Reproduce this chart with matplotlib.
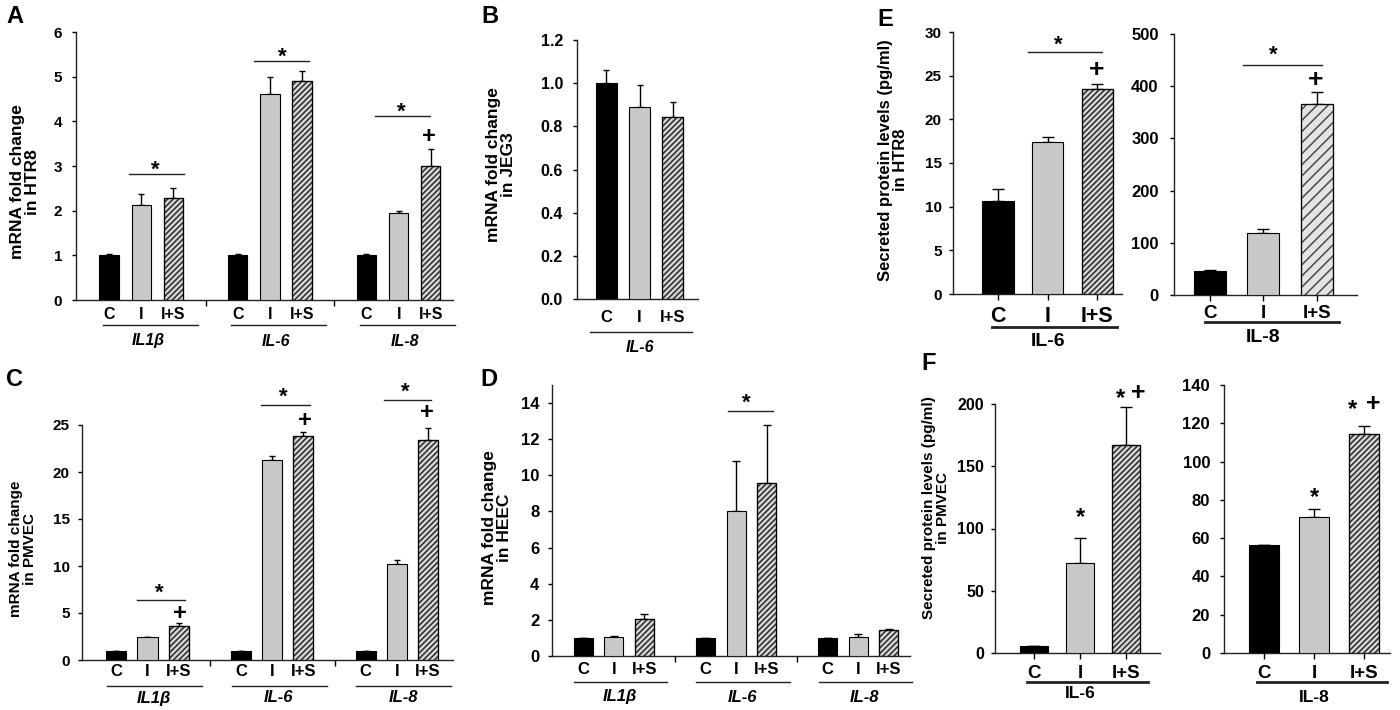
import matplotlib
matplotlib.use('Agg')
import matplotlib.pyplot as plt
import matplotlib.transforms as mtransforms
import numpy as np

plt.rcParams['font.family'] = ['Liberation Sans', 'DejaVu Sans']
plt.rcParams['font.weight'] = 'bold'
plt.rcParams['hatch.linewidth'] = 1.1

# ---------------- data ----------------
conditions = ['C', 'I', 'I+S']
genes = ['IL1β', 'IL-6', 'IL-8']

a_mean = [1.0, 2.12, 2.28, 1.0, 4.62, 4.91, 1.0, 1.95, 3.0]
a_err = [0.02, 0.25, 0.23, 0.02, 0.38, 0.22, 0.02, 0.05, 0.37]
b_mean = [1.0, 0.89, 0.845]
b_err = [0.06, 0.10, 0.07]
c_mean = [1.0, 2.4, 3.65, 1.0, 21.3, 23.8, 1.0, 10.2, 23.4]
c_err = [0.0, 0.06, 0.3, 0.0, 0.4, 0.45, 0.0, 0.4, 1.3]
d_mean = [1.0, 1.05, 2.07, 1.0, 8.0, 9.6, 1.0, 1.05, 1.42]
d_err = [0.0, 0.07, 0.24, 0.0, 2.8, 3.18, 0.0, 0.19, 0.07]
e6_mean = [10.7, 17.35, 23.45]
e6_err = [1.35, 0.6, 0.6]
e8_mean = [46, 119, 366]
e8_err = [2.5, 6.5, 23]
f6_mean = [5.4, 72.6, 166.8]
f6_err = [0.0, 20, 30.8]
f8_mean = [56.5, 71.3, 114.6]
f8_err = [0.0, 4.0, 4.2]

# significance bar heights / marker heights (data units)
a_sig_y = [2.82, 5.35, 4.12]
a_plus_y = [None, None, 3.65]
c_sig_y = [6.4, 27.1, 27.7]
c_plus_y = [4.9, 25.5, 26.3]
d_sig_y = [None, 13.56, None]
e6_sig_y, e6_plus_y = 27.7, 25.6
e8_sig_y, e8_plus_y = 440, 412
f6_star_y = [113, 209]
f8_star_y = [84, 130]

W, H = 1400, 710
fig = plt.figure(figsize=(W / 100, H / 100), dpi=100)

face = {'C': 'black', 'I': '#c8c8c8', 'I+S': '#d6d6d6'}


def fy(ypx):
    return 1 - ypx / H


def add_ax(l, r, t, b, xlim, ylim, yticks, ytfs, ypad, fmt=None):
    ax = fig.add_axes([l / W, 1 - b / H, (r - l) / W, (b - t) / H])
    ax.set_xlim(*xlim)
    ax.set_ylim(*ylim)
    for s in ['top', 'right']:
        ax.spines[s].set_visible(False)
    for s in ['left', 'bottom']:
        ax.spines[s].set_linewidth(1.0)
        ax.spines[s].set_color('#222222')
    ax.set_yticks(yticks)
    if fmt:
        ax.set_yticklabels([fmt.format(v) for v in yticks])
    ax.tick_params(axis='y', direction='out', length=3, width=1, pad=ypad,
                   labelsize=ytfs)
    ax.set_facecolor('none')
    return ax


def bars(ax, pos, mean, err, width, hatch='//////', capsize=2.5,
         hcolor='#2a2a2a', hface=None):
    for i, (p, m) in enumerate(zip(pos, mean)):
        cond = conditions[i % 3]
        if cond == 'I+S':
            ax.bar(p, m, width, color=hface or face[cond], edgecolor=hcolor,
                   hatch=hatch, linewidth=0.8, zorder=3)
            ax.bar(p, m, width, color='none', edgecolor='black',
                   linewidth=0.9, zorder=4)
        else:
            ax.bar(p, m, width, color=face[cond], edgecolor='black',
                   linewidth=0.8, zorder=3)
    ax.errorbar(pos, mean, yerr=[np.zeros(len(err)), err], fmt='none',
                ecolor='black', elinewidth=1, capsize=capsize, capthick=1,
                zorder=2)


def xlabels(ax, pos, fs, pad, ticklen=0):
    ax.set_xticks(pos)
    ax.set_xticklabels([conditions[i % 3] for i in range(len(pos))])
    ax.tick_params(axis='x', direction='out', length=ticklen, width=1,
                   pad=pad, labelsize=fs)


def star(ax, x, y, fs=16):
    tr = mtransforms.offset_copy(ax.transData, fig=fig, y=-0.23 * fs,
                                 units='points')
    ax.text(x, y, '*', fontsize=fs, ha='center', va='center', transform=tr,
            clip_on=False)


def plus(ax, x, y, fs=17):
    ax.text(x, y, '+', fontsize=fs, ha='center', va='center',
            transform=ax.transData, clip_on=False, fontweight='heavy')


def sigline(ax, x0, x1, y):
    ax.plot([x0, x1], [y, y], color='#222222', lw=1, clip_on=False)


def underline(ax, x0, x1, ypx, lw=1):
    tr = mtransforms.blended_transform_factory(ax.transData, fig.transFigure)
    ax.plot([x0, x1], [fy(ypx), fy(ypx)], color='#222222', lw=lw,
            transform=tr, clip_on=False)


def grouplabel(ax, x, ypx, txt, fs, italic=True):
    tr = mtransforms.blended_transform_factory(ax.transData, fig.transFigure)
    ax.text(x, fy(ypx), txt, fontsize=fs, ha='center', va='center',
            style='italic' if italic else 'normal', transform=tr)


def ylabel(xpx, ypx, txt, fs):
    fig.text(xpx / W, fy(ypx), txt, rotation=90, ha='center', va='center',
             fontsize=fs, linespacing=1.05)


def letter(xpx, ypx, txt):
    fig.text(xpx / W, fy(ypx), txt, ha='left', va='top', fontsize=17,
             fontweight='bold')


pos9 = [g * 4 + k for g in range(3) for k in range(3)]
pos3 = [0, 1, 2]

# ---------------- Panel A ----------------
axA = add_ax(76, 453, 32, 300, (-1.03, 10.69), (0, 6), range(0, 7), 11, 7)
bars(axA, pos9, a_mean, a_err, 0.6)
xlabels(axA, pos9, 11.5, 5)
axA.set_xticks([3, 7], minor=True)
axA.tick_params(axis='x', which='minor', length=4, width=1, direction='out')
for g in range(3):
    underline(axA, g * 4 - 0.2, g * 4 + 2.75, 325)
    grouplabel(axA, g * 4 + 1.2, 341, genes[g], 11.5)
sigline(axA, 0.63, 2.34, a_sig_y[0]); star(axA, 1.44, 3.02)
sigline(axA, 4.5, 6.22, a_sig_y[1]); star(axA, 5.37, 5.55)
sigline(axA, 8.25, 9.97, a_sig_y[2]); star(axA, 9.09, 4.32)
plus(axA, 9.94, a_plus_y[2])
ylabel(25, 182, 'mRNA fold change\nin HTR8', 12.5)
letter(6, 5, 'A')

# ---------------- Panel B ----------------
axB = add_ax(577, 698, 40, 299, (-0.87, 2.75), (0, 1.2),
             [0, 0.2, 0.4, 0.6, 0.8, 1.0, 1.2], 11.5, 7, fmt='{:.1f}')
bars(axB, pos3, b_mean, b_err, 0.63)
xlabels(axB, pos3, 12, 8)
underline(axB, -0.48, 2.57, 332)
grouplabel(axB, 1.0, 348, 'IL-6', 11.5)
ylabel(501, 165, 'mRNA fold change\nin JEG3', 12.5)
letter(481, 5, 'B')

# ---------------- Panel C ----------------
axC = add_ax(82, 453, 425, 660, (-1.1, 10.8), (0, 25), range(0, 26, 5),
             11, 6)
bars(axC, pos9, c_mean, c_err, 0.65)
xlabels(axC, pos9, 12, 3)
axC.set_xticks([3, 7], minor=True)
axC.tick_params(axis='x', which='minor', length=4, width=1, direction='out')
for g in range(3):
    underline(axC, g * 4 - 0.3, g * 4 + 2.75, 686)
    grouplabel(axC, g * 4 + 1.2, 698, genes[g], 12)
sigline(axC, 0.65, 2.19, c_sig_y[0]); star(axC, 1.39, 7.7)
plus(axC, 2.03, c_plus_y[0])
sigline(axC, 4.65, 6.2, c_sig_y[1]); star(axC, 5.35, 28.5)
plus(axC, 6.06, c_plus_y[1])
sigline(axC, 8.58, 10.1, c_sig_y[2]); star(axC, 9.26, 29.0)
plus(axC, 9.97, c_plus_y[2])
ylabel(23, 549, 'mRNA fold change\nin PMVEC', 11)
letter(6, 368, 'C')

# ---------------- Panel D ----------------
axD = add_ax(552, 910, 385, 656, (-1.02, 10.69), (0, 15), range(0, 15, 2),
             12, 6)
bars(axD, pos9, d_mean, d_err, 0.62, capsize=3)
xlabels(axD, pos9, 12, 4)
axD.set_xticks([3, 7], minor=True)
axD.tick_params(axis='x', which='minor', length=4, width=1, direction='out')
for g in range(3):
    underline(axD, g * 4 - 0.3, g * 4 + 2.75, 682)
    grouplabel(axD, g * 4 + 1.2, 697, genes[g], 12)
sigline(axD, 4.75, 6.2, d_sig_y[1]); star(axD, 5.34, 14.3)
ylabel(497, 528, 'mRNA fold change\nin HEEC', 12.5)
letter(480, 368, 'D')

# ---------------- Panel E ----------------
axE1 = add_ax(953, 1122, 32, 294, (-0.91, 2.5), (0, 30), range(0, 31, 5),
              11, 5)
bars(axE1, pos3, e6_mean, e6_err, 0.63, capsize=4)
xlabels(axE1, pos3, 15.5, 5, ticklen=4)
underline(axE1, -0.12, 2.4, 327, lw=2)
grouplabel(axE1, 1.0, 342, 'IL-6', 14, italic=False)
sigline(axE1, 0.61, 2.1, e6_sig_y); star(axE1, 1.21, 29.1)
plus(axE1, 1.98, e6_plus_y, fs=19)

axE2 = add_ax(1174, 1357, 34, 295, (-0.67, 2.75), (0, 500),
              range(0, 501, 100), 12, 8)
bars(axE2, pos3, e8_mean, e8_err, 0.6, hatch='///', capsize=4,
     hcolor='#4a4a4a', hface='#e4e4e4')
xlabels(axE2, pos3, 13.5, 3.5, ticklen=4)
underline(axE2, -0.09, 2.41, 322, lw=2)
grouplabel(axE2, 1.0, 337, 'IL-8', 14, italic=False)
sigline(axE2, 0.62, 2.09, e8_sig_y); star(axE2, 1.18, 470)
plus(axE2, 1.98, e8_plus_y, fs=19)
ylabel(893, 160, 'Secreted protein levels (pg/ml)\nin HTR8', 12)
letter(877, 8, 'E')

# ---------------- Panel F ----------------
axF1 = add_ax(995, 1160, 404, 653, (-0.85, 2.74), (0, 200),
              range(0, 201, 50), 11.5, 5)
bars(axF1, pos3, f6_mean, f6_err, 0.61, capsize=4)
xlabels(axF1, pos3, 13.5, 5, ticklen=4)
underline(axF1, -0.15, 2.48, 682, lw=2)
grouplabel(axF1, 1.0, 694, 'IL-6', 12.5, italic=False)
star(axF1, 1.0, f6_star_y[0], fs=17)
star(axF1, 1.87, f6_star_y[1], fs=17)
plus(axF1, 2.26, f6_star_y[1], fs=18)

axF2 = add_ax(1224, 1390, 385, 653, (-0.8, 2.52), (0, 140),
              range(0, 141, 20), 12, 7)
bars(axF2, pos3, f8_mean, f8_err, 0.6, capsize=4)
xlabels(axF2, pos3, 13.5, 5, ticklen=4)
underline(axF2, -0.14, 2.46, 682, lw=2)
grouplabel(axF2, 1.0, 697, 'IL-8', 12.5, italic=False)
star(axF2, 1.0, f8_star_y[0], fs=17)
star(axF2, 1.78, f8_star_y[1], fs=17)
plus(axF2, 2.18, f8_star_y[1], fs=18)
ylabel(936, 508, 'Secreted protein levels (pg/ml)\nin PMVEC', 11)
letter(921, 352, 'F')

fig.savefig('out.png', dpi=100, facecolor='white')
